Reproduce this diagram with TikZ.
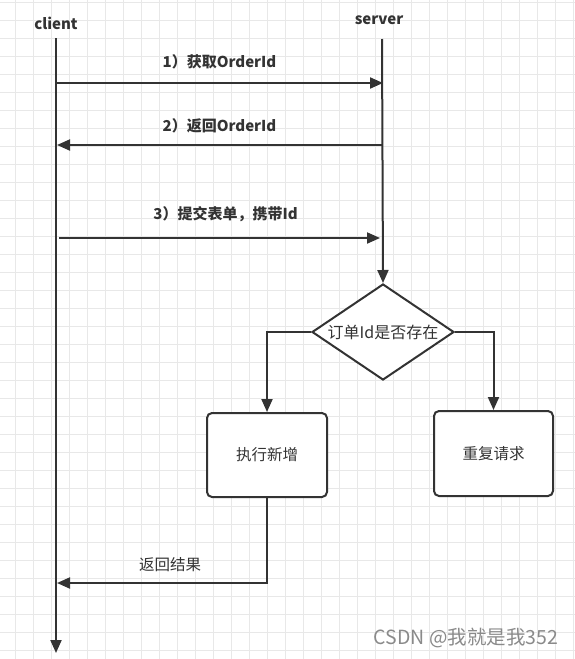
\documentclass[tikz,border=0pt]{standalone}
\usepackage{fontspec}
\setmainfont{Noto Sans CJK SC}
\usetikzlibrary{positioning,shapes.geometric,arrows.meta}
\definecolor{inkgray}{HTML}{333333}
\definecolor{gridgray}{HTML}{E8E8E8}
\definecolor{markgray}{HTML}{8A8A8A}

\tikzset{
	gridline/.style={draw=gridgray, line width=0.8pt},
	lbl/.style={font=\bfseries\fontsize{15}{17}\selectfont, text=inkgray},
	txt/.style={font=\fontsize{15.5}{18}\selectfont, text=inkgray},
	lifeline/.style={draw=inkgray, line width=2pt},
	flow/.style={draw=inkgray, line width=2pt, ->},
	decision/.style={diamond, draw=inkgray, line width=2pt, fill=white, aspect=1.48,
		minimum width=142pt, minimum height=96pt, inner sep=0pt, txt, font=\fontsize{16}{18}\selectfont},
	procbox/.style={rectangle, rounded corners=5pt, draw=inkgray, line width=2pt, fill=white,
		minimum width=120pt, minimum height=84pt, txt},
	wmark/.style={font=\fontsize{19.5}{22}\selectfont, text=markgray}
}

\begin{document}
\begin{tikzpicture}[x=1pt, y=-1pt, >={Triangle[length=13pt,width=11pt]}]
	\fill[white] (0,0) rectangle (575,659);
	\useasboundingbox (0,0) rectangle (575,659);
	% background grid
	\foreach \gx in {15,33,...,573} \draw[gridline] (\gx,0) -- (\gx,659);
	\foreach \gy in {2,20,...,650} \draw[gridline] (0,\gy) -- (575,\gy);

	\node[lbl] (client) at (56,23) {client};
	\node[lbl] (server) at (379,20) {server};

	\coordinate (cTop) at (56,38);
	\coordinate (cEnd) at (56,653);
	\coordinate (sTop) at (382,39);
	\coordinate (c1) at (56,83);
	\coordinate (s1) at (383,83);
	\coordinate (s2) at (382,145);
	\coordinate (c2) at (57,145);
	\coordinate (c3) at (59,238);
	\coordinate (s3) at (380,238);
	\coordinate (cRet) at (57,583);

	\node[decision] (check) at (383,332) {订单Id是否存在};
	\node[procbox] (insert) at (267,455) {执行新增};
	\node[procbox, minimum width=119pt, minimum height=85pt] (repeat) at (493.5,453.5) {重复请求};

	% lifelines
	\draw[flow] (cTop) -- (cEnd);
	\draw[flow] (sTop) -- (check.north);

	% messages
	\draw[flow] (c1) -- node [midway,above=10pt,lbl] {1）获取OrderId} (s1);
	\draw[flow] (s2) -- node [midway,above=8pt,lbl] {2）返回OrderId} (c2);
	\draw[flow] (c3) -- node [midway,above=12pt,lbl,xshift=6pt] {3）提交表单，携带Id} (s3);

	% branches
	\draw[flow] (check.west) -| (insert.north);
	\draw[flow] (check.east) -| (repeat.north);
	\draw[flow] (insert.south) |- node [pos=0.75,above=7pt,txt,xshift=8pt] {返回结果} (cRet);

	\node[wmark] (csdn) at (466,638) {CSDN @我就是我352};
\end{tikzpicture}
\end{document}
